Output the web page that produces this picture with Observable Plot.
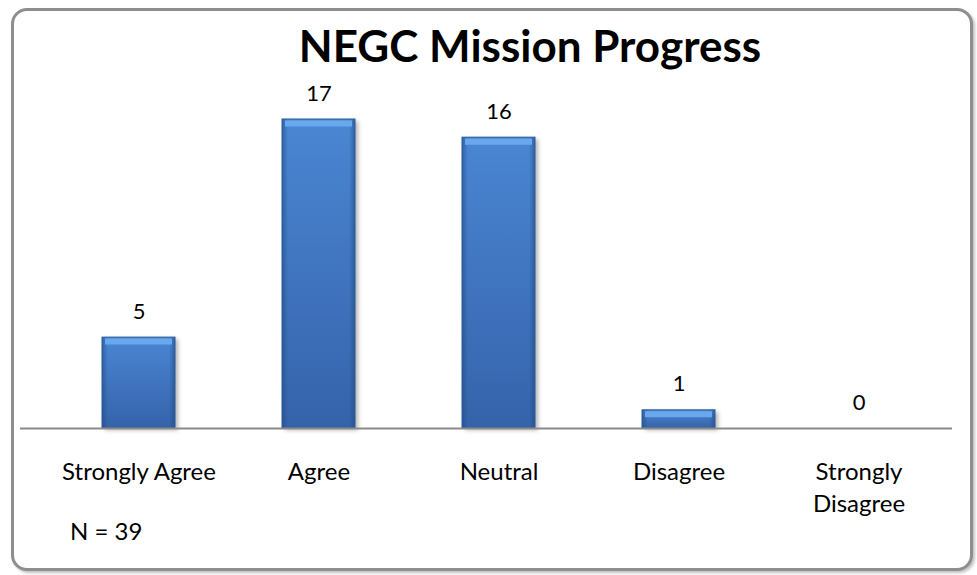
<!DOCTYPE html>
<html><head><meta charset="utf-8">
<script src="https://cdn.jsdelivr.net/npm/d3@7"></script>
<script src="https://cdn.jsdelivr.net/npm/@observablehq/plot@0.6"></script>
<style>
html,body{margin:0;padding:0;background:#fff;width:977px;height:575px;overflow:hidden;}
#frame{position:absolute;left:11px;top:8px;width:956px;height:557px;border:3px solid #8e8e8e;border-radius:16px;box-shadow:2px 2px 3px rgba(0,0,0,.25);background:#fff;}
#title{position:absolute;left:0;width:1060px;top:23px;text-align:center;font-family:Lato,sans-serif;font-weight:bold;font-size:44px;line-height:44px;color:#000;}
#chart{position:absolute;left:0;top:0;}
#note{position:absolute;left:70px;top:519px;font-family:Lato,sans-serif;font-size:24px;line-height:24px;color:#000;}
.bars{filter:drop-shadow(3px 2px 2px rgba(0,0,0,.3));}
</style></head>
<body>
<div id="frame"></div>
<div id="chart"></div>
<div id="title">NEGC Mission Progress</div>
<div id="note">N = 39</div>
<script>
const categories = ["Strongly Agree", "Agree", "Neutral", "Disagree", "Strongly Disagree"];
const values = [5, 17, 16, 1, 0];
const tickLabels = ["Strongly Agree", "Agree", "Neutral", "Disagree", "Strongly\nDisagree"];

const data = categories.map((c, i) => ({cat: c, val: values[i], label: tickLabels[i]}));

const chart = Plot.plot({
  width: 977,
  height: 575,
  marginTop: 119,
  marginBottom: 147,
  marginLeft: 20,
  marginRight: 25,
  style: {fontFamily: "Lato, sans-serif", background: "transparent", overflow: "visible"},
  x: {domain: categories, range: [48, 949], paddingInner: 0.594, paddingOuter: 0.297, axis: null},
  y: {domain: [0, 17], axis: null},
  marks: [
    Plot.barY(data.filter(d => d.val > 0), {x: "cat", y: "val", fill: "url(#barV)", className: "bars"}),
    Plot.barY(data.filter(d => d.val > 0), {x: "cat", y: "val", fill: "url(#barH)", stroke: "#2c5b98", strokeWidth: 1}),
    Plot.tickY(data.filter(d => d.val > 0), {x: "cat", y: "val", stroke: "#6aa8ee", strokeWidth: 6, dy: 4, insetLeft: 3, insetRight: 3}),
    Plot.ruleY([0], {stroke: "#8a8a8a", strokeWidth: 2}),
    Plot.text(data, {x: "cat", y: "val", text: d => String(d.val), dy: -26, lineAnchor: "middle", fontSize: 22, fill: "#000"}),
    Plot.text(data, {x: "cat", text: "label", frameAnchor: "bottom", dy: 28, lineAnchor: "top", lineHeight: 1.36, fontSize: 24, fill: "#000"})
  ]
});

const defs = d3.select(chart).insert("defs", ":first-child");
const gv = defs.append("linearGradient").attr("id", "barV").attr("x1", 0).attr("y1", 0).attr("x2", 0).attr("y2", 1);
gv.append("stop").attr("offset", "0%").attr("stop-color", "#4a86d3");
gv.append("stop").attr("offset", "100%").attr("stop-color", "#3563aa");
const gh = defs.append("linearGradient").attr("id", "barH").attr("x1", 0).attr("y1", 0).attr("x2", 1).attr("y2", 0);
gh.append("stop").attr("offset", "0%").attr("stop-color", "#1f4a85").attr("stop-opacity", 0.6);
gh.append("stop").attr("offset", "8%").attr("stop-color", "#1f4a85").attr("stop-opacity", 0);
gh.append("stop").attr("offset", "92%").attr("stop-color", "#1f4a85").attr("stop-opacity", 0);
gh.append("stop").attr("offset", "100%").attr("stop-color", "#1f4a85").attr("stop-opacity", 0.6);

document.getElementById("chart").appendChild(chart);
</script>
</body></html>
